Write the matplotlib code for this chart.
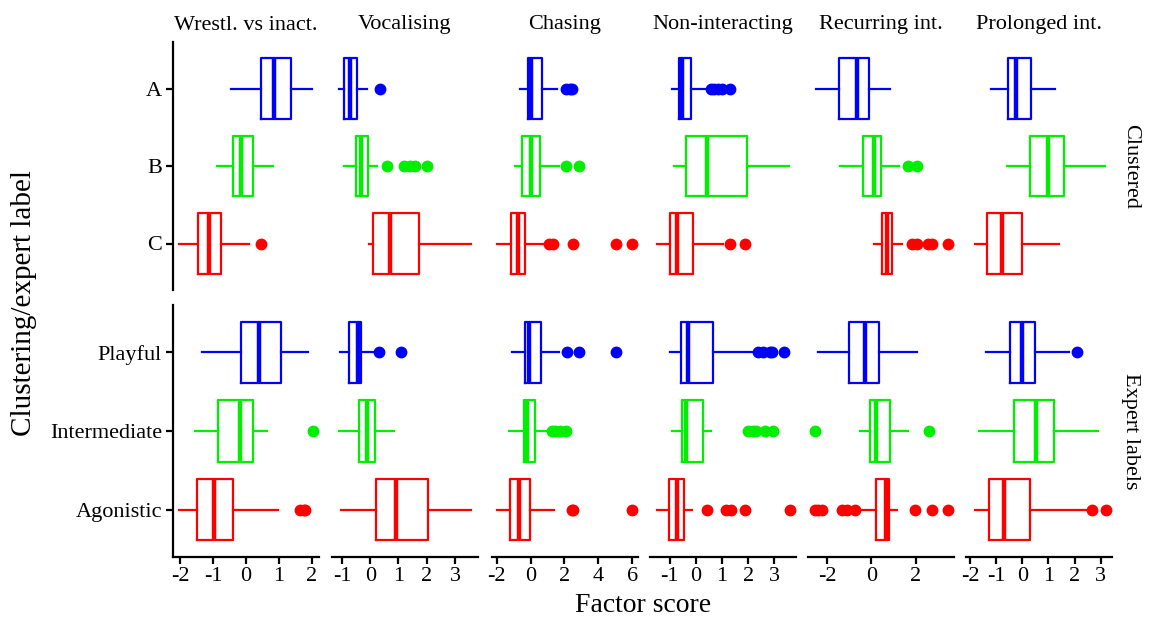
import matplotlib
matplotlib.use("Agg")
import matplotlib.pyplot as plt

plt.rcParams["font.family"] = ["Liberation Serif", "DejaVu Serif"]
plt.rcParams["axes.unicode_minus"] = False

facets = ["Wrestl. vs inact.", "Vocalising", "Chasing", "Non-interacting",
          "Recurring int.", "Prolonged int."]
row_names = ["Clustered", "Expert labels"]
top_groups = ["A", "B", "C"]
bottom_groups = ["Playful", "Intermediate", "Agonistic"]
group_colors = ["#0000FF", "#00EE00", "#FF0000"]

# stats per facet, order: A, B, C, Playful, Intermediate, Agonistic
whis_lo = [[-0.46, -0.89, -2.03, -1.35, -1.54, -2.03],
           [-1.12, -0.94, -0.05, -1.06, -1.10, -1.04],
           [-0.60, -0.90, -1.96, -1.10, -1.26, -1.96],
           [-0.91, -0.82, -1.49, -1.00, -0.91, -1.49],
           [-2.50, -1.43, 0.14, -2.38, -0.52, -0.49],
           [-1.18, -0.57, -1.81, -1.40, -1.65, -1.81]]
q1 = [[0.44, -0.40, -1.47, -0.14, -0.84, -1.49],
      [-0.92, -0.49, 0.11, -0.76, -0.39, 0.19],
      [-0.16, -0.49, -1.16, -0.36, -0.40, -1.24],
      [-0.65, -0.39, -1.00, -0.56, -0.52, -1.04],
      [-1.44, -0.37, 0.49, -0.99, -0.07, 0.19],
      [-0.54, 0.28, -1.33, -0.48, -0.32, -1.27]]
med = [[0.85, -0.15, -1.11, 0.39, -0.18, -0.97],
       [-0.70, -0.34, 0.71, -0.42, -0.13, 0.91],
       [0.04, 0.01, -0.73, -0.10, -0.19, -0.70],
       [-0.54, 0.41, -0.71, -0.30, -0.36, -0.71],
       [-0.64, 0.14, 0.71, -0.27, 0.23, 0.68],
       [-0.22, 0.99, -0.76, 0.00, 0.51, -0.71]]
q3 = [[1.38, 0.21, -0.77, 1.06, 0.21, -0.38],
      [-0.46, -0.08, 1.72, -0.34, 0.16, 2.05],
      [0.65, 0.55, -0.34, 0.61, 0.27, -0.05],
      [-0.17, 1.97, -0.12, 0.64, 0.29, -0.46],
      [-0.12, 0.44, 0.94, 0.34, 0.86, 0.79],
      [0.32, 1.59, 0.00, 0.50, 1.23, 0.28]]
whis_hi = [[2.00, 0.82, 0.10, 1.88, 0.65, 0.97],
           [-0.10, 0.25, 3.57, 0.13, 0.85, 3.57],
           [1.57, 1.65, 0.71, 1.65, 1.01, 1.37],
           [0.45, 3.57, 1.04, 2.32, 0.58, -0.13],
           [0.83, 1.24, 1.39, 2.07, 1.65, 1.14],
           [1.26, 3.16, 1.42, 1.80, 2.88, 2.50]]
fliers = [[[], [], [0.44], [], [2.02], [1.65, 1.75, 1.80]],
          [[0.35], [0.58, 1.21, 1.39, 1.59, 1.99], [], [0.31, 1.09], [], []],
          [[2.10, 2.30, 2.45], [2.11, 2.86], [1.11, 1.31, 2.52, 5.02, 5.97],
           [2.17, 2.86, 5.07], [1.25, 1.45, 1.71, 2.11], [2.42, 2.52, 5.97]],
          [[0.57, 0.70, 0.85, 1.00, 1.29], [], [1.29, 1.87],
           [2.39, 2.58, 2.84, 2.93, 3.36], [2.00, 2.19, 2.32, 2.64, 2.94],
           [0.41, 1.16, 1.35, 1.87, 3.61]],
          [[], [1.65, 2.07], [1.85, 2.07, 2.57, 2.75, 3.43], [], [-2.53, 2.60],
           [-2.53, -2.40, -2.22, -1.32, -1.10, -0.72, 1.95, 2.75, 3.43]],
          [[], [], [], [2.08], [], [2.67, 3.20]]]

x_ticks = [[-2, -1, 0, 1, 2], [-1, 0, 1, 2, 3], [-2, 0, 2, 4, 6],
           [-1, 0, 1, 2, 3], [-2, 0, 2], [-2, -1, 0, 1, 2, 3]]
x_lims = [(-2.215, 2.215), (-1.35, 3.81), (-2.28, 6.34), (-1.75, 3.83),
          (-2.85, 3.72), (-2.15, 3.43)]

W, H = 1154, 619
fig = plt.figure(figsize=(W / 100, H / 100), dpi=100)

col_left = [173, 332, 492, 650, 808, 966]
col_w = 146
row_top = [42, 305]
row_h = [248, 252]

for r in range(2):
    for c in range(6):
        ax = fig.add_axes([col_left[c] / W, 1 - (row_top[r] + row_h[r]) / H,
                           col_w / W, row_h[r] / H])
        for g in range(3):
            k = r * 3 + g
            col = group_colors[g]
            st = dict(med=med[c][k], q1=q1[c][k], q3=q3[c][k],
                      whislo=whis_lo[c][k], whishi=whis_hi[c][k],
                      fliers=fliers[c][k])
            ax.bxp([st], positions=[3 - g], widths=0.78, orientation="horizontal",
                   showcaps=False,
                   boxprops=dict(color=col, linewidth=1.6),
                   whiskerprops=dict(color=col, linewidth=1.6),
                   medianprops=dict(color=col, linewidth=3.2, solid_capstyle="butt"),
                   flierprops=dict(marker="o", markerfacecolor=col,
                                   markeredgecolor=col, markersize=7.5, linestyle="none"))
        ax.set_ylim(0.4, 3.6)
        ax.set_xlim(*x_lims[c])
        for s in ["top", "right"]:
            ax.spines[s].set_visible(False)
        ax.spines["left"].set_linewidth(1.6)
        ax.spines["bottom"].set_linewidth(1.6)
        if c == 0:
            ax.set_yticks([3, 2, 1])
            ax.set_yticklabels(top_groups if r == 0 else bottom_groups, fontsize=16)
            ax.tick_params(axis="y", length=5, width=1.6, pad=3)
        else:
            ax.spines["left"].set_visible(False)
            ax.set_yticks([])
        if r == 1:
            ax.set_xticks(x_ticks[c])
            ax.set_xticklabels([str(t) for t in x_ticks[c]], fontsize=16)
            ax.tick_params(axis="x", length=5, width=1.6, pad=2)
        else:
            ax.spines["bottom"].set_visible(False)
            ax.set_xticks([])
            ax.set_title(facets[c], fontsize=16, pad=9)
        if c == 5:
            ax.text(1.06, 0.5, row_names[r], transform=ax.transAxes, rotation=-90,
                    ha="left", va="center", fontsize=16)

fig.text(643 / W, 1 - 606 / H, "Factor score", ha="center", va="center", fontsize=20)
fig.text(24 / W, 1 - 303 / H, "Clustering/expert label", ha="center", va="center",
         rotation=90, fontsize=21)

fig.savefig("out.png", dpi=100)
